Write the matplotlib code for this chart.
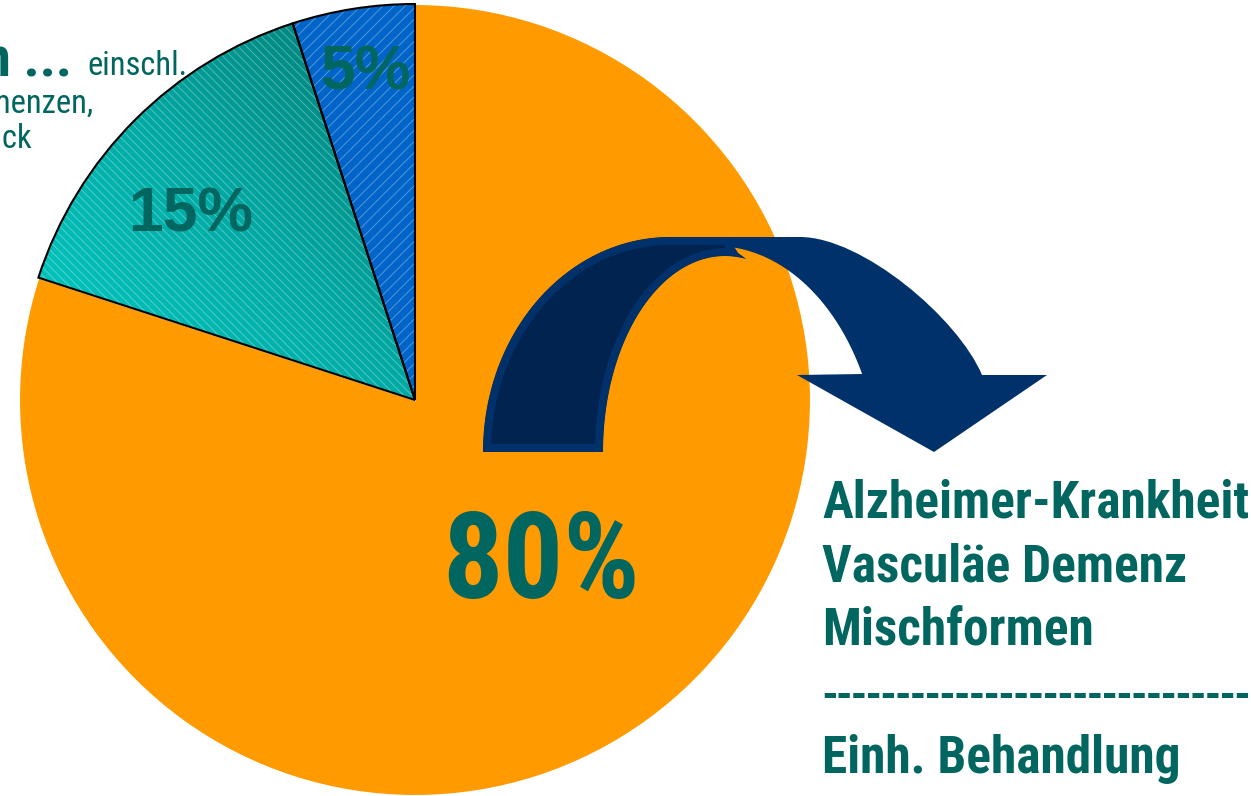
import os
import numpy as np
import matplotlib
matplotlib.use("Agg")
import matplotlib.pyplot as plt
from matplotlib.patches import Wedge, PathPatch
from matplotlib.path import Path
from matplotlib.colors import LinearSegmentedColormap
from matplotlib import font_manager
from matplotlib.font_manager import FontProperties

# ---- data ----
categories = ["Alzheimer / Vaskulär / Mischformen", "Andere Demenzformen", "Sonstige"]
values = [80, 15, 5]
value_labels = ["80%", "15%", "5%"]
right_lines = ["Alzheimer-Krankheit", "Vasculäe Demenz", "Mischformen"]
bottom_line = "Einh. Behandlung"
left_bold = ["Andere Formen ..."]
left_regular = ["einschl.", "sekundärer Demenzen,", "z.B. Normaldruck"]

W, H = 1251, 796
def Y(y):
    return H - y

# ---- fonts: prefer a condensed grotesque (Arial-Narrow-like) ----
_files = {os.path.basename(f.fname): f.fname for f in font_manager.fontManager.ttflist}
def pick(names, fallback_weight):
    for n in names:
        if n in _files:
            return FontProperties(fname=_files[n])
    return FontProperties(family="Liberation Sans", weight=fallback_weight)

FP_NB = pick(["RobotoCondensed-Bold.ttf", "PT_Sans-Narrow-Web-Bold.ttf"], "bold")
FP_NR = pick(["RobotoCondensed-Regular.ttf", "PT_Sans-Narrow-Web-Regular.ttf"], "normal")

plt.rcParams["hatch.linewidth"] = 0.7
TEXT = "#00665F"
ORANGE = "#FF9A00"

fig = plt.figure(figsize=(W / 100, H / 100), dpi=100)
ax = fig.add_axes([0, 0, 1, 1])

cx, cy, R = 415, Y(400), 396
wedges, _ = ax.pie(values, colors=[ORANGE, "#00A8A2", "#0064C8"], startangle=90,
                   counterclock=False, center=(cx, cy), radius=R,
                   wedgeprops=dict(linewidth=0))
ax.set_xlim(0, W)
ax.set_ylim(0, H)
ax.set_aspect("equal")
ax.axis("off")

w_or, w_te, w_bl = wedges
w_or.set_edgecolor("white")
w_or.set_linewidth(1.5)
w_or.set_zorder(1)

# teal gradient clipped to wedge
w_te.set_facecolor("none")
gx, gy = np.meshgrid(np.linspace(0, 1, 300), np.linspace(0, 1, 300))
g = (gx + gy) / 2.0
cmap = LinearSegmentedColormap.from_list("tl", ["#00D0C8", "#00AAA4", "#00766E"])
im = ax.imshow(g, cmap=cmap, origin="lower", extent=(cx - R, cx, cy, cy + R),
               zorder=1.5, interpolation="bilinear")
im.set_clip_path(w_te)
ax.set_xlim(0, W)
ax.set_ylim(0, H)

for w, hatch in [(w_te, "\\\\\\\\"), (w_bl, "///")]:
    ov = Wedge(w.center, w.r, w.theta1, w.theta2, facecolor="none",
               edgecolor=(1, 1, 1, 0.33), linewidth=0, hatch=hatch, zorder=2)
    ax.add_patch(ov)
    ed = Wedge(w.center, w.r, w.theta1, w.theta2, facecolor="none",
               edgecolor="black", linewidth=1.5, zorder=2.5)
    ax.add_patch(ed)

# ---- curved arrow (image coordinates, y downwards) ----
def P(x, y):
    return (x, Y(y))

def ell(cxp, cyp, rx, ry, t0, t1, n=60):
    t = np.radians(np.linspace(t0, t1, n))
    return [P(cxp + rx * np.cos(t[i]), cyp - ry * np.sin(t[i])) for i in range(n)]

t_in = np.degrees(np.arcsin(106 / 234))
verts = [P(690, 237), P(800, 237)]
codes = [Path.MOVETO, Path.LINETO]
verts += [P(862, 237), P(958, 318), P(982, 375)]
codes += [Path.CURVE4] * 3
for v in [P(1047, 375), P(934, 452), P(797, 375)]:
    verts.append(v); codes.append(Path.LINETO)
for v in ell(715, 480, 165, 234, t_in, 90):
    verts.append(v); codes.append(Path.LINETO)
verts.append(P(690, 237)); codes.append(Path.CLOSEPOLY)
ax.add_patch(PathPatch(Path(verts, codes), facecolor="#00316A", edgecolor="none", zorder=3))

fv = ell(670, 452, 187, 215, 180, 90) + [P(728, 237), P(738, 253)] + ell(725, 452, 122, 196, 80, 180)
fv.append(fv[0])
fc = [Path.MOVETO] + [Path.LINETO] * (len(fv) - 2) + [Path.CLOSEPOLY]
front = PathPatch(Path(fv, fc), facecolor="#00244F", edgecolor="#00316A",
                  linewidth=11.5, joinstyle="miter", zorder=4)
ax.add_patch(front)
front.set_clip_path(front)

# ---- texts ----
def fit(t, target_w):
    """scale a text's font size so its rendered width matches target_w pixels"""
    fig.canvas.draw()
    bb = t.get_window_extent()
    t.set_fontsize(t.get_fontsize() * target_w / bb.width)
    return t.get_fontsize()

t80 = ax.text(541, Y(598), value_labels[0], fontproperties=FP_NB,
              fontsize=86, color=TEXT, ha="center", va="baseline", zorder=6)
fit(t80, 198)
ax.text(191, Y(232), value_labels[1], family="Liberation Sans", fontweight="bold",
        fontsize=45, color=TEXT, ha="center", va="baseline", zorder=6)
ax.text(365, Y(90), value_labels[2], family="Liberation Sans", fontweight="bold",
        fontsize=45, color=TEXT, ha="center", va="baseline", zorder=6)

rt = [ax.text(822, Y(yb), txt, fontproperties=FP_NB, fontsize=38,
              color=TEXT, ha="left", va="baseline", zorder=6)
      for txt, yb in zip(right_lines, [517, 581, 645])]
fs = fit(rt[0], 426)
for t in rt[1:]:
    t.set_fontsize(fs)
dash = ax.text(822, Y(707), "-" * 29, family="Liberation Sans", fontweight="bold",
               fontsize=32, color=TEXT, ha="left", va="baseline", zorder=6)
fit(dash, 425)
ax.text(822, Y(773), bottom_line, fontproperties=FP_NB, fontsize=fs,
        color=TEXT, ha="left", va="baseline", zorder=6)

# top-left (clipped) text
ax.text(72, Y(76), left_bold[0], fontproperties=FP_NB, fontsize=40,
        color=TEXT, ha="right", va="baseline", zorder=6)
te = ax.text(87, Y(75), left_regular[0], fontproperties=FP_NR, fontsize=27,
             color=TEXT, ha="left", va="baseline", zorder=6)
fs2 = fit(te, 100)
ax.text(93, Y(113), left_regular[1], fontproperties=FP_NR, fontsize=fs2,
        color=TEXT, ha="right", va="baseline", zorder=6)
ax.text(32, Y(148), left_regular[2], fontproperties=FP_NR, fontsize=fs2,
        color=TEXT, ha="right", va="baseline", zorder=6)

fig.savefig("out.png", dpi=100, facecolor="white")
